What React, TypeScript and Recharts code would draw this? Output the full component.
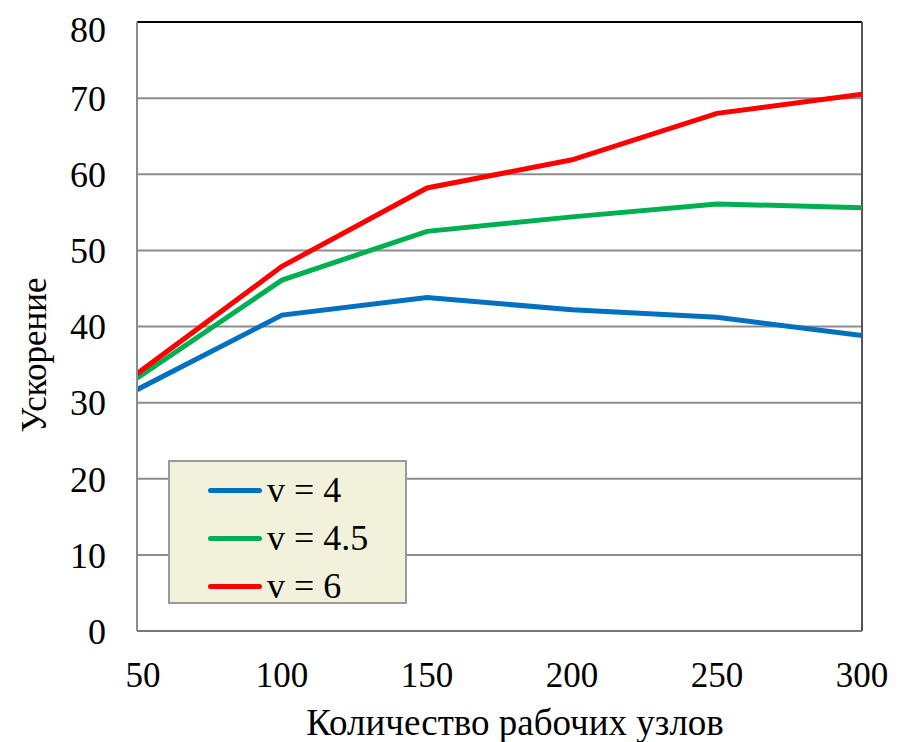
import React from "react";
import { LineChart, Line, XAxis, YAxis, CartesianGrid, Legend, ReferenceLine, Label } from "recharts";

const nodes = [50, 100, 150, 200, 250, 300];
const v4 = [31.7, 41.5, 43.8, 42.2, 41.2, 38.8];
const v45 = [33.2, 46.1, 52.5, 54.4, 56.1, 55.6];
const v6 = [33.8, 47.9, 58.2, 61.9, 68.0, 70.5];
const yTicks = [0, 10, 20, 30, 40, 50, 60, 70, 80];

const seriesNames = ["v = 4", "v = 4.5", "v = 6"];
const seriesColors = ["#0070C0", "#00B050", "#FF0000"];

const data = nodes.map((n, i) => ({ n, a: v4[i], b: v45[i], c: v6[i] }));

const FONT = "'Liberation Serif', 'Times New Roman', serif";

const XTick = (props: any) => {
  const { x, payload, index } = props;
  const shift = index === 0 ? 6 : 0;
  // axis sits at y=623 in chart coords; labels baseline ~679
  return (
    <text x={x + shift} y={679} textAnchor="middle" fontSize={35} fontFamily={FONT} fill="#000">
      {payload.value}
    </text>
  );
};

const LegendBox = () => (
  <div style={{
    width: 239, height: 144, background: "#F2F2DC", border: "2px solid #9a9a9a",
    fontFamily: FONT, fontSize: 36, color: "#000", paddingTop: 4, boxSizing: "border-box",
  }}>
    {seriesNames.map((s, i) => (
      <div key={s} style={{ display: "flex", alignItems: "center", height: 48 }}>
        <span style={{ display: "inline-block", width: 54, height: 5, borderRadius: 3, background: seriesColors[i], marginLeft: 38, marginRight: 5 }} />
        <span style={{ lineHeight: "48px" }}>{s}</span>
      </div>
    ))}
  </div>
);

export default function App() {
  return (
    <LineChart width={893} height={734} data={data} margin={{ top: 14, right: 39, bottom: 81, left: 0 }}
      style={{ fontFamily: FONT }}>
      <CartesianGrid vertical={false} stroke="#8c8c8c" strokeWidth={2} />
      <XAxis dataKey="n" type="number" domain={[50, 300]} ticks={nodes} allowDataOverflow height={30}
        axisLine={{ stroke: "#777", strokeWidth: 2 }} tickLine={false} tickSize={0} tick={<XTick />}>
        <Label content={() => (
          <text x={507} y={727} textAnchor="middle" fontSize={37} fontFamily={FONT} fill="#000">
            Количество рабочих узлов</text>
        )} />
      </XAxis>
      <YAxis domain={[0, 80]} ticks={yTicks} width={129} axisLine={{ stroke: "#8c8c8c", strokeWidth: 2 }}
        tickLine={false} tickSize={0} tickMargin={31}
        tick={{ fontSize: 36, fill: "#000", fontFamily: FONT }}>
        <Label content={() => (
          <text x={0} y={0} transform="translate(38,347) rotate(-90)" textAnchor="middle" fontSize={35}
            fontFamily={FONT} fill="#000">Ускорение</text>
        )} />
      </YAxis>
      <ReferenceLine y={80} stroke="#000" strokeWidth={2} />
      <ReferenceLine x={300} stroke="#555" strokeWidth={2} />
      <Line dataKey="a" name={seriesNames[0]} stroke={seriesColors[0]} strokeWidth={5} dot={false} isAnimationActive={false} />
      <Line dataKey="b" name={seriesNames[1]} stroke={seriesColors[1]} strokeWidth={5} dot={false} isAnimationActive={false} />
      <Line dataKey="c" name={seriesNames[2]} stroke={seriesColors[2]} strokeWidth={5} dot={false} isAnimationActive={false} />
      <Legend layout="vertical" align="center" verticalAlign="middle" content={() => <LegendBox />}
        wrapperStyle={{ left: 160, top: 452, width: 243, height: 148 }} />
    </LineChart>
  );
}
